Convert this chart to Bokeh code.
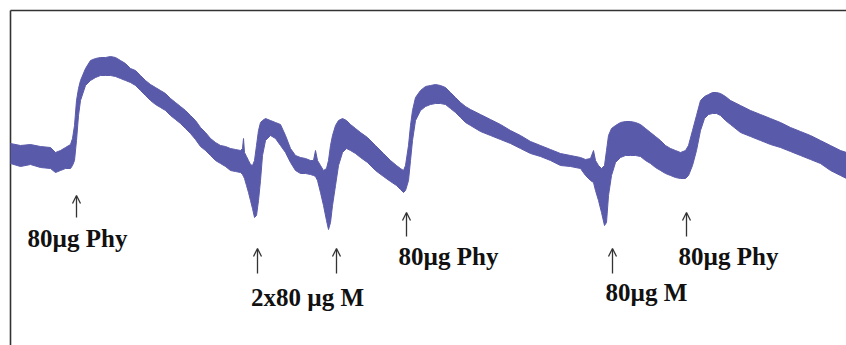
import numpy as np
from bokeh.plotting import figure
from bokeh.models import Range1d, ColumnDataSource, Arrow, OpenHead
from bokeh.core.properties import value
from bokeh.embed import file_html
from bokeh.resources import INLINE

# Recording trace: time axis and upper / lower envelope of the band
time_raw = [10, 20, 30, 40, 50, 55, 60, 65, 70, 72, 74, 76, 78, 80, 85, 90, 95, 100, 105, 110,
            115, 120, 125, 130, 135, 140, 145, 150, 155, 160, 165, 170, 175, 180, 185, 190,
            195, 200, 205, 210, 215, 220, 225, 230, 235, 240, 242, 243, 244, 246, 248, 250,
            252, 254, 256, 258, 260, 262, 265, 270, 275, 280, 285, 290, 295, 300, 305, 310,
            313, 315, 317, 320, 323, 326, 328, 330, 332, 335, 338, 342, 346, 350, 355, 360,
            367, 375, 383, 390, 396, 400, 403, 405, 408, 410, 412, 415, 420, 425, 430, 435,
            440, 445, 450, 455, 460, 465, 470, 480, 490, 500, 510, 520, 530, 540, 550, 560,
            570, 580, 585, 590, 593, 595, 598, 601, 604, 606, 608, 611, 615, 620, 625, 630,
            635, 640, 645, 650, 655, 660, 665, 670, 675, 680, 685, 688, 692, 696, 700, 704,
            708, 712, 716, 720, 725, 730, 740, 750, 760, 770, 780, 790, 800, 810, 820, 830,
            840, 846]
upper_raw = [143, 145, 144, 146, 147, 152, 150, 147, 144, 138, 125, 100, 88, 80, 68, 60, 58, 57, 57, 56,
             57, 60, 63, 68, 70, 75, 80, 84, 87, 90, 93, 98, 102, 106, 110, 115,
             120, 127, 132, 138, 142, 145, 146, 148, 149, 150, 148, 138, 152, 156, 160, 164,
             165, 160, 145, 130, 122, 120, 118, 120, 122, 124, 135, 148, 155, 157, 158, 160,
             160, 150, 160, 165, 170, 168, 160, 145, 135, 125, 120, 118, 120, 124, 128, 132,
             137, 145, 153, 160, 165, 168, 170, 165, 145, 125, 110, 97, 90, 86, 85, 84,
             85, 87, 92, 97, 102, 106, 109, 114, 119, 124, 130, 135, 141, 145, 149, 153,
             155, 157, 159, 158, 150, 160, 165, 168, 165, 150, 135, 128, 125, 122, 121, 121,
             122, 124, 128, 132, 136, 140, 145, 148, 150, 152, 150, 145, 130, 115, 100, 96,
             94, 92, 92, 93, 96, 100, 105, 110, 114, 118, 122, 127, 131, 135, 140, 145,
             150, 152]
lower_raw = [163, 166, 164, 167, 168, 172, 170, 168, 168, 165, 160, 140, 115, 100, 85, 80, 77, 75, 75, 75,
             76, 78, 80, 82, 85, 90, 95, 100, 104, 107, 110, 115, 119, 123, 128, 133,
             139, 146, 150, 155, 160, 163, 166, 170, 171, 172, 174, 176, 178, 185, 192, 200,
             208, 217, 215, 200, 180, 155, 140, 135, 138, 145, 152, 162, 170, 173, 173, 174,
             175, 176, 180, 192, 205, 220, 229, 222, 205, 185, 165, 152, 148, 150, 153, 157,
             162, 170, 176, 181, 185, 189, 192, 190, 180, 160, 140, 120, 110, 106, 104, 103,
             103, 104, 108, 112, 117, 122, 125, 131, 135, 139, 143, 148, 153, 156, 160, 165,
             166, 168, 175, 180, 182, 190, 200, 212, 225, 222, 195, 175, 162, 157, 155, 155,
             155, 156, 160, 163, 167, 170, 173, 175, 177, 178, 178, 175, 165, 150, 130, 118,
             114, 113, 113, 115, 120, 124, 132, 136, 140, 144, 147, 151, 155, 159, 163, 170,
             175, 178]

# Injection events
event_x_raw = [76, 257, 336, 406, 612, 686]
event_arrow_top_raw = [195, 248, 248, 212, 248, 212]
event_arrow_bottom_raw = [217, 273, 273, 236, 273, 236]

labels = ["80\u00b5g Phy", "2x80 \u00b5g M", "80\u00b5g Phy", "80\u00b5g M", "80\u00b5g Phy"]
label_x_raw = [77, 307, 448, 646, 728]
label_y_raw = [238, 297, 256, 292, 256]

# convert picture readings to plot units (time from frame start, signal positive upward)
def tx(v):
    return np.asarray(v, dtype=float) - 10.0

def ty(v):
    return 170.0 - np.asarray(v, dtype=float)

trace = ColumnDataSource(dict(t=tx(time_raw), top=ty(upper_raw), bottom=ty(lower_raw)))
arrows = ColumnDataSource(dict(x=tx(event_x_raw), y0=ty(event_arrow_bottom_raw), y1=ty(event_arrow_top_raw)))
texts = ColumnDataSource(dict(x=tx(label_x_raw), y=ty(label_y_raw), text=labels))

p = figure(width=846, height=345, output_backend="svg", toolbar_location=None,
           x_range=Range1d(-10, 836), y_range=Range1d(-175, 170), min_border=0)
p.axis.visible = False
p.grid.visible = False
p.outline_line_color = None
p.background_fill_color = "white"
p.border_fill_color = "white"

# frame lines (left and top)
p.segment(x0=[0, 0], y0=[160, 160], x1=[0, 836], y1=[-175, 160], line_color="#333333", line_width=1.6)

band_color = "#5a5aab"
p.varea(x="t", y1="bottom", y2="top", source=trace, fill_color=band_color)
p.line(x="t", y="top", source=trace, line_color=band_color, line_width=1)
p.line(x="t", y="bottom", source=trace, line_color=band_color, line_width=1)

p.add_layout(Arrow(end=OpenHead(size=8, line_width=1.3, line_color="#333333"),
                   x_start="x", y_start="y0", x_end="x", y_end="y1", source=arrows,
                   line_color="#333333", line_width=1.3))

p.text(x="x", y="y", text="text", source=texts, text_font=value("Liberation Serif"),
       text_font_style="bold", text_font_size="25px", text_align="center",
       text_baseline="alphabetic", text_color="#111111")

open("out.html", "w").write(file_html(p, INLINE))
